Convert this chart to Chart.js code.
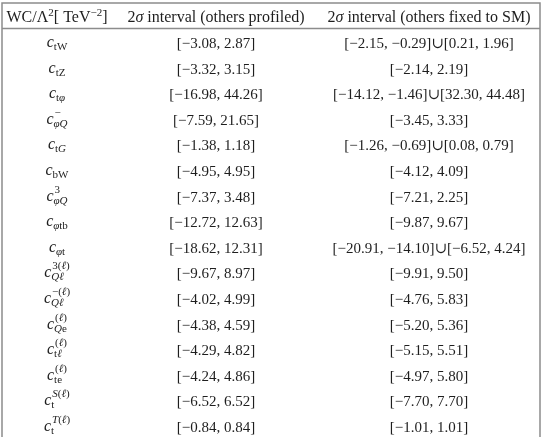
<!DOCTYPE html>
<html>
<head>
<meta charset="utf-8">
<script src="https://cdn.jsdelivr.net/npm/chart.js@4.4.1/dist/chart.umd.min.js"></script>
<style>
html,body{margin:0;padding:0;background:#fff;}
#wrap{width:546px;height:437px;position:relative;}
</style>
</head>
<body>
<div id="wrap"><canvas id="myChart"></canvas></div>
<script>
// column headers (^{..} = superscript)
let headers = ['WC/Λ^{2}[ TeV^{−2}]', '2σ interval (others profiled)', '2σ interval (others fixed to SM)'];

// Wilson coefficients: c with subscript / superscript
let coeffSub = ['tW','tZ','tφ','φQ','tG','bW','φQ','φtb','φt','Qℓ','Qℓ','Qe','tℓ','te','t','t'];
let coeffSup = ['','','','−','','','3','','','3(ℓ)','−(ℓ)','(ℓ)','(ℓ)','(ℓ)','S(ℓ)','T(ℓ)'];

// 2 sigma interval, others profiled
let profiledLo = [-3.08,-3.32,-16.98,-7.59,-1.38,-4.95,-7.37,-12.72,-18.62,-9.67,-4.02,-4.38,-4.29,-4.24,-6.52,-0.84];
let profiledHi = [2.87,3.15,44.26,21.65,1.18,4.95,3.48,12.63,12.31,8.97,4.99,4.59,4.82,4.86,6.52,0.84];

// 2 sigma interval, others fixed to SM (some are a union of two ranges)
let fixedIntervals = [
  [[-2.15,-0.29],[0.21,1.96]],
  [[-2.14,2.19]],
  [[-14.12,-1.46],[32.30,44.48]],
  [[-3.45,3.33]],
  [[-1.26,-0.69],[0.08,0.79]],
  [[-4.12,4.09]],
  [[-7.21,2.25]],
  [[-9.87,9.67]],
  [[-20.91,-14.10],[-6.52,4.24]],
  [[-9.91,9.50]],
  [[-4.76,5.83]],
  [[-5.20,5.36]],
  [[-5.15,5.51]],
  [[-4.97,5.80]],
  [[-7.70,7.70]],
  [[-1.01,1.01]]
];

// table layout (x in table units, y in rows)
var colCenter = [57, 216, 429];
var tableLeft = 2, tableRight = 540;
var topRule = -1.563, headRule = -0.567;
var FS = 15, HS = 16, SS = 11;
var textColor = '#1e1e1e';
var ruleColor = '#8c8c8c';

function fmt(v){ return (v < 0 ? '−' : '') + Math.abs(v).toFixed(2); }
function interval(p){ return '[' + fmt(p[0]) + ', ' + fmt(p[1]) + ']'; }

var profiledText = profiledLo.map(function(lo, i){ return interval([lo, profiledHi[i]]); });
var fixedText = fixedIntervals.map(function(list){ return list.map(interval).join('∪'); });

function font(size, it){ return (it ? 'italic ' : '') + size + 'px "Liberation Serif", "DejaVu Serif", serif'; }

function runs(str, italics){
  var out = [];
  for (const ch of str) {
    var it = italics.indexOf(ch) >= 0;
    if (out.length && out[out.length-1].it === it) out[out.length-1].t += ch;
    else out.push({t: ch, it: it});
  }
  return out;
}
function width(ctx, str, size, italics){
  var w = 0;
  runs(str, italics).forEach(function(r){ ctx.font = font(size, r.it); w += ctx.measureText(r.t).width; });
  return w;
}
function draw(ctx, str, x, y, size, italics){
  runs(str, italics).forEach(function(r){
    ctx.font = font(size, r.it);
    ctx.fillText(r.t, x, y);
    x += ctx.measureText(r.t).width;
  });
  return x;
}

// header text with ^{..} superscripts
function drawHeader(ctx, str, cx, cy){
  var parts = [], re = /\^\{([^}]*)\}/g, last = 0, m;
  while ((m = re.exec(str))) {
    if (m.index > last) parts.push({t: str.slice(last, m.index), sup: false});
    parts.push({t: m[1], sup: true});
    last = re.lastIndex;
  }
  if (last < str.length) parts.push({t: str.slice(last), sup: false});
  var w = 0;
  parts.forEach(function(p){ w += width(ctx, p.t, p.sup ? SS : HS, 'σ'); });
  var x = cx - w/2, base = cy + 5;
  parts.forEach(function(p){
    x = draw(ctx, p.t, x, p.sup ? base - 6 : base, p.sup ? SS : HS, 'σ');
  });
}

var mathItalic = 'φQGSTℓ';
function drawCoeff(ctx, sub, sup, cx, cy){
  ctx.font = font(FS + 1, true);
  var cw = ctx.measureText('c').width;
  var sw = Math.max(width(ctx, sub, SS, mathItalic), width(ctx, sup, SS, mathItalic) + 1);
  var x = cx - (cw + sw)/2, base = cy + 4;
  ctx.font = font(FS + 1, true);
  ctx.fillText('c', x, base);
  draw(ctx, sub, x + cw, base + 3, SS, mathItalic);
  if (sup) draw(ctx, sup, x + cw + 1, base - 8, SS, mathItalic);
}

var tablePlugin = {
  id: 'tableText',
  beforeDatasetsDraw: function(chart){
    var ctx = chart.ctx, xs = chart.scales.x, ys = chart.scales.y, area = chart.chartArea;
    ctx.save();
    ctx.strokeStyle = ruleColor;
    ctx.lineWidth = 1.5;
    var l = xs.getPixelForValue(tableLeft), r = xs.getPixelForValue(tableRight);
    var t = ys.getPixelForValue(topRule), h = ys.getPixelForValue(headRule);
    ctx.beginPath();
    ctx.moveTo(l, area.bottom); ctx.lineTo(l, t); ctx.lineTo(r, t); ctx.lineTo(r, area.bottom);
    ctx.moveTo(l, h); ctx.lineTo(r, h);
    ctx.stroke();
    ctx.restore();
  },
  afterDatasetsDraw: function(chart){
    var ctx = chart.ctx;
    ctx.save();
    ctx.fillStyle = textColor;
    ctx.textAlign = 'left';
    ctx.textBaseline = 'alphabetic';
    chart.getDatasetMeta(0).data.forEach(function(pt, i){ drawHeader(ctx, headers[i], pt.x, pt.y); });
    chart.getDatasetMeta(1).data.forEach(function(pt, i){ drawCoeff(ctx, coeffSub[i], coeffSup[i], pt.x, pt.y); });
    chart.getDatasetMeta(2).data.forEach(function(pt, i){
      var w = width(ctx, profiledText[i], FS, '');
      draw(ctx, profiledText[i], pt.x - w/2, pt.y + 5, FS, '');
    });
    chart.getDatasetMeta(3).data.forEach(function(pt, i){
      var w = width(ctx, fixedText[i], FS, '');
      draw(ctx, fixedText[i], pt.x - w/2, pt.y + 5, FS, '');
    });
    ctx.restore();
  }
};

function column(c){ return coeffSub.map(function(_, i){ return {x: colCenter[c], y: i}; }); }

let ctx = document.getElementById('myChart').getContext('2d');
let myChart = new Chart(ctx, {
  type: 'scatter',
  data: {
    datasets: [
      {label: 'header', data: headers.map(function(_, c){ return {x: colCenter[c], y: -1}; }), pointRadius: 0},
      {label: 'WC', data: column(0), pointRadius: 0},
      {label: 'profiled', data: column(1), pointRadius: 0},
      {label: 'fixed', data: column(2), pointRadius: 0}
    ]
  },
  options: {
    responsive: true,
    maintainAspectRatio: false,
    animation: false,
    layout: {padding: 0},
    scales: {
      x: {type: 'linear', min: 0, max: 546, display: false},
      y: {type: 'linear', min: -1.68, max: 15.39, reverse: true, display: false}
    },
    plugins: {legend: {display: false}, tooltip: {enabled: false}}
  },
  plugins: [tablePlugin]
});
</script>
</body>
</html>
